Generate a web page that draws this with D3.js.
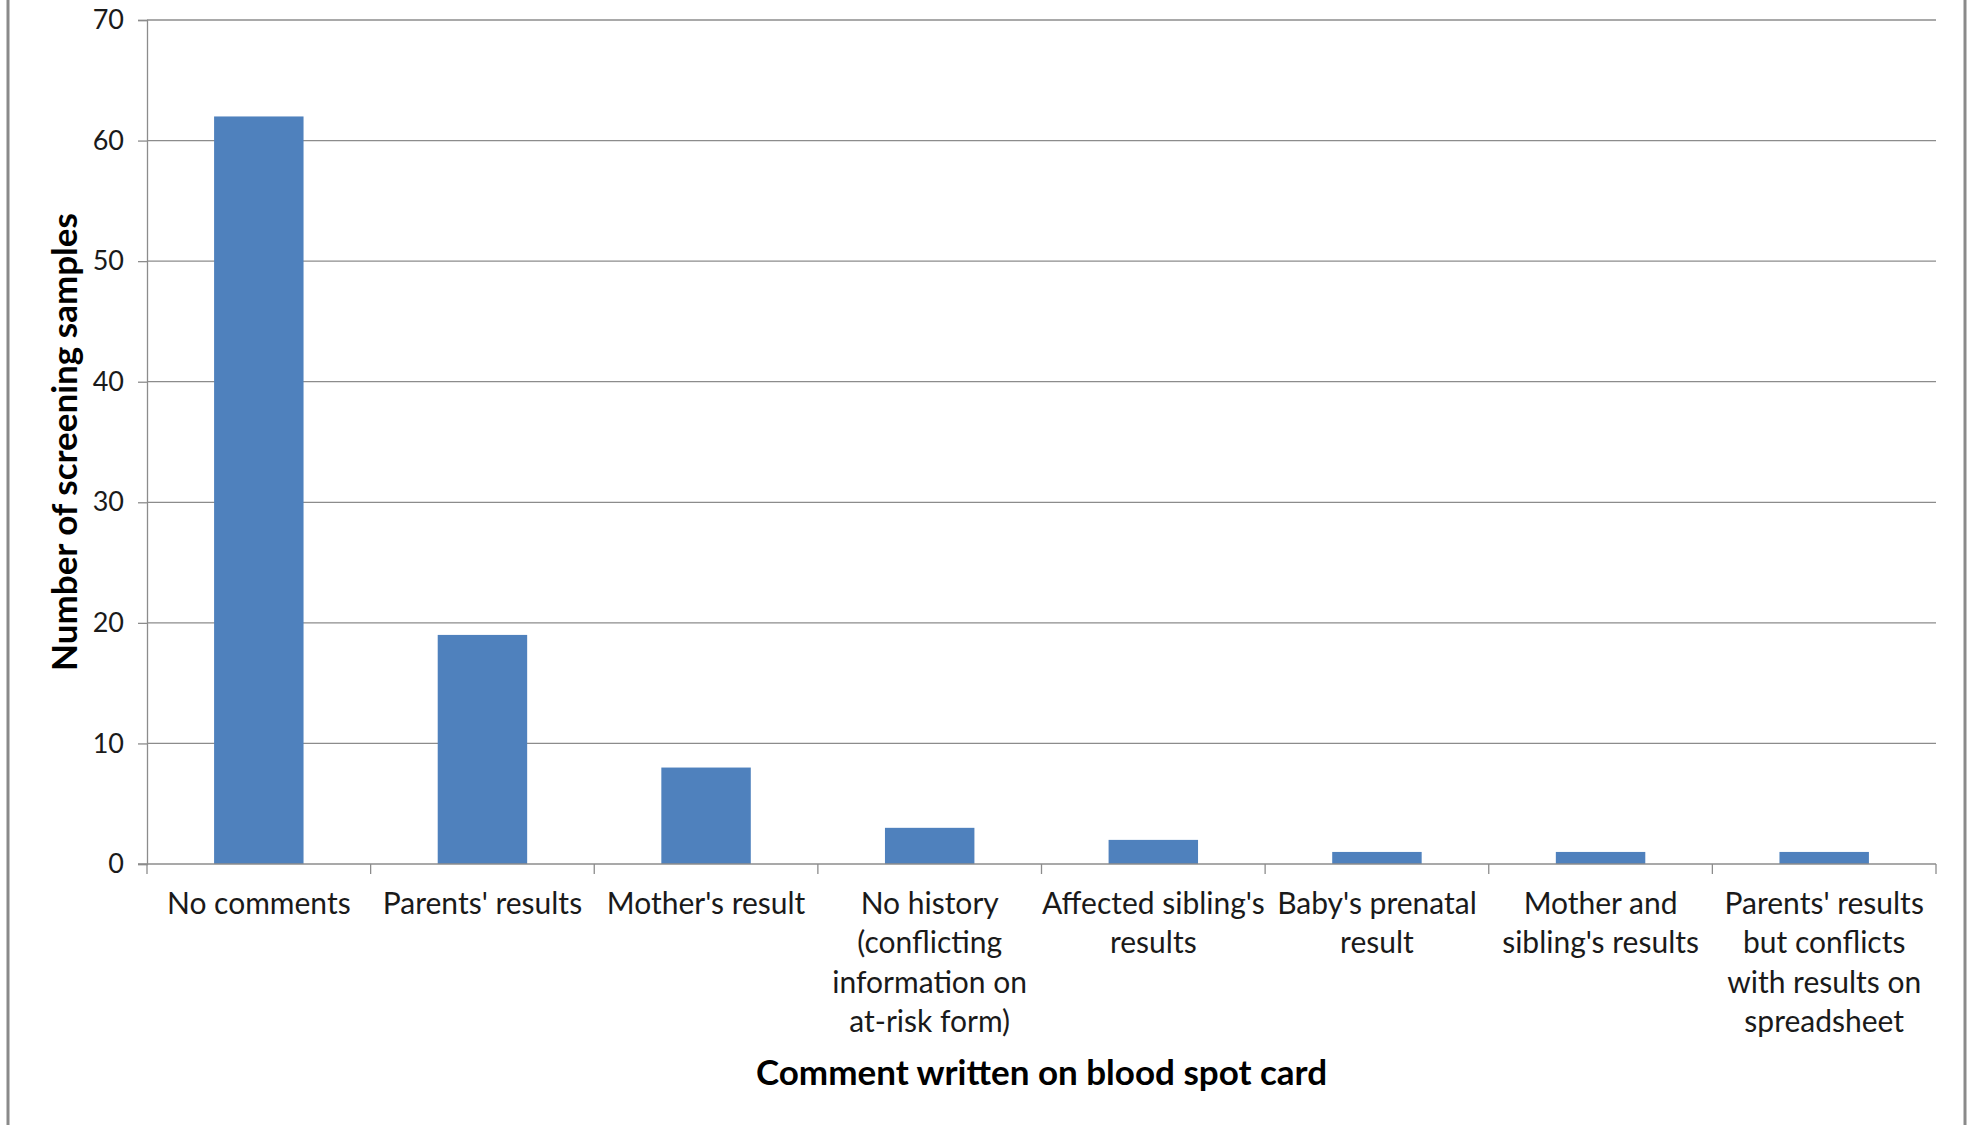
<!DOCTYPE html>
<html>
<head>
<meta charset="utf-8">
<script src="https://cdn.jsdelivr.net/npm/d3@7"></script>
<style>
  body { margin: 0; background: #fff; }
  svg { display: block; font-family: Lato, 'Open Sans', sans-serif; }
</style>
</head>
<body>
<svg id="chart"></svg>
<script>
// data
var categories = [
  'No comments',
  "Parents' results",
  "Mother's result",
  'No history|(conflicting|information on|at-risk form)',
  "Affected sibling's|results",
  "Baby's prenatal|result",
  "Mother and|sibling's results",
  "Parents' results|but conflicts|with results on|spreadsheet"
];
var counts = [62, 19, 8, 3, 2, 1, 1, 1];
var yTicks = [0, 10, 20, 30, 40, 50, 60, 70];

var width = 1969;
var height = 1125;
var padLeft = 147, padRight = 1936, padTop = 20, padBottom = 864;

var svg = d3.select('#chart')
    .attr('width', width)
    .attr('height', height);

// outer frame
svg.append('rect')
    .attr('x', 8)
    .attr('y', -10)
    .attr('width', 1957)
    .attr('height', height + 20)
    .attr('fill', 'none')
    .attr('stroke', '#8a8a8a')
    .attr('stroke-width', 3);

var xScale = d3.scaleBand()
    .domain(categories)
    .range([padLeft, padRight])
    .paddingInner(0.6)
    .paddingOuter(0.3);

var yScale = d3.scaleLinear()
    .domain([0, 70])
    .range([padBottom, padTop]);

// gridlines
svg.append('g')
    .selectAll('line')
    .data(yTicks.slice(1))
    .enter()
    .append('line')
    .attr('x1', padLeft)
    .attr('x2', padRight)
    .attr('y1', d => yScale(d))
    .attr('y2', d => yScale(d))
    .attr('stroke', '#8c8c8c')
    .attr('stroke-width', 1.3);

// bars
svg.selectAll('.bar')
    .data(counts)
    .enter()
    .append('rect')
    .attr('class', 'bar')
    .attr('x', (d, i) => xScale(categories[i]))
    .attr('y', d => yScale(d))
    .attr('width', xScale.bandwidth())
    .attr('height', d => padBottom - yScale(d))
    .attr('fill', '#4f81bd');

// y axis
var yAxis = d3.axisLeft(yScale)
    .tickValues(yTicks)
    .tickSize(9)
    .tickPadding(14);

var gy = svg.append('g')
    .attr('transform', 'translate(' + padLeft + ',0)')
    .call(yAxis);
gy.select('.domain').attr('stroke', '#8c8c8c').attr('stroke-width', 1.3);
gy.selectAll('.tick line').attr('stroke', '#8c8c8c').attr('stroke-width', 1.3);
gy.selectAll('.tick text')
    .attr('font-family', 'Lato, sans-serif')
    .attr('font-size', 27)
    .attr('fill', '#1a1a1a');

// x axis: ticks sit on category boundaries
var step = xScale.step();
var xBounds = d3.range(categories.length + 1).map(i => padLeft + i * step);

var gx = svg.append('g');
gx.append('line')
    .attr('x1', padLeft - 9)
    .attr('x2', padRight)
    .attr('y1', padBottom)
    .attr('y2', padBottom)
    .attr('stroke', '#8c8c8c')
    .attr('stroke-width', 1.3);
gx.selectAll('.xtick')
    .data(xBounds)
    .enter()
    .append('line')
    .attr('class', 'xtick')
    .attr('x1', d => d)
    .attr('x2', d => d)
    .attr('y1', padBottom)
    .attr('y2', padBottom + 10)
    .attr('stroke', '#8c8c8c')
    .attr('stroke-width', 1.3);

var labels = gx.selectAll('.xlabel')
    .data(categories)
    .enter()
    .append('text')
    .attr('class', 'xlabel')
    .attr('text-anchor', 'middle')
    .attr('font-size', 30)
    .attr('fill', '#1a1a1a')
    .attr('transform', d => 'translate(' + (xScale(d) + xScale.bandwidth() / 2) + ',0)');

labels.selectAll('tspan')
    .data(d => d.split('|'))
    .enter()
    .append('tspan')
    .attr('x', 0)
    .attr('y', (d, i) => 914 + i * 39.3)
    .text(d => d);

// axis titles
svg.append('text')
    .attr('x', (padLeft + padRight) / 2)
    .attr('y', 1085)
    .attr('text-anchor', 'middle')
    .attr('font-size', 35)
    .attr('font-weight', 'bold')
    .attr('fill', '#000')
    .text('Comment written on blood spot card');

svg.append('text')
    .attr('transform', 'translate(77,' + ((padTop + padBottom) / 2) + ') rotate(-90)')
    .attr('text-anchor', 'middle')
    .attr('font-size', 35)
    .attr('font-weight', 'bold')
    .attr('fill', '#000')
    .text('Number of screening samples');
</script>
</body>
</html>
